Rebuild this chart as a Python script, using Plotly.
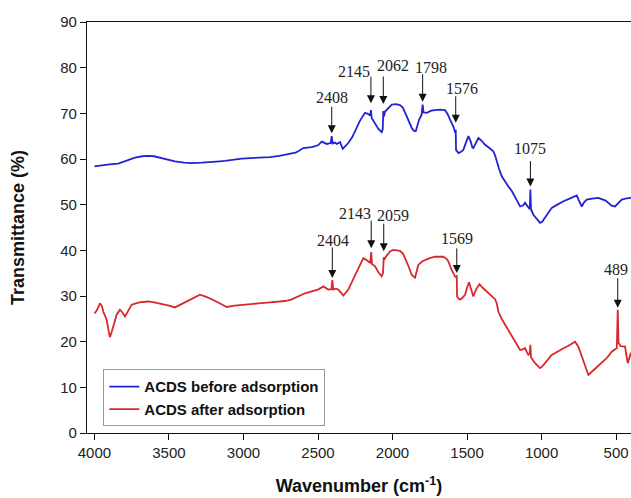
import numpy as np
import plotly.graph_objects as go

# FTIR spectrum of ACDS before adsorption (wavenumber in cm-1, transmittance in %)
wn_before = [4000, 3960, 3900, 3840, 3790, 3728, 3680, 3639, 3600, 3549, 3500, 3460, 3400, 3348,
             3280, 3213, 3160, 3124, 3060, 3012, 2950, 2880, 2822, 2760, 2699, 2650, 2632, 2610,
             2599, 2542, 2500, 2475, 2455, 2442, 2415, 2408, 2402, 2385, 2374, 2352, 2334, 2297,
             2270, 2252, 2220, 2185, 2165, 2150, 2145, 2140, 2117, 2095, 2073, 2066, 2062, 2058,
             2050, 2039, 2020, 2005, 1975, 1950, 1930, 1916, 1890, 1871, 1855, 1844, 1822, 1805,
             1798, 1792, 1770, 1740, 1715, 1680, 1648, 1630, 1614, 1590, 1580, 1576, 1574, 1565,
             1558, 1540, 1525, 1505, 1491, 1475, 1465, 1458, 1440, 1424, 1400, 1379, 1350, 1324,
             1312, 1301, 1285, 1267, 1245, 1223, 1200, 1178, 1160, 1144, 1125, 1111, 1100, 1089,
             1079, 1075, 1071, 1055, 1030, 1010, 995, 977, 955, 932, 900, 876, 850, 820, 790, 764,
             748, 730, 715, 697, 660, 619, 570, 530, 507, 485, 462, 430, 406, 400]
t_before = [58.4, 58.6, 58.8, 59.0, 59.6, 60.3, 60.6, 60.7, 60.6, 60.2, 59.8, 59.5, 59.2, 59.1,
            59.2, 59.3, 59.5, 59.6, 59.9, 60.1, 60.2, 60.3, 60.4, 60.7, 61.1, 61.4, 61.7, 62.3,
            62.4, 62.6, 63.0, 63.8, 63.4, 63.3, 63.5, 65.0, 63.4, 63.6, 63.3, 63.7, 62.2, 63.5,
            64.8, 66.1, 68.3, 70.1, 69.9, 69.5, 70.7, 69.0, 67.9, 66.6, 65.9, 66.5, 70.5, 69.3,
            70.4, 70.8, 71.5, 71.9, 72.0, 71.8, 71.2, 70.1, 68.4, 66.8, 66.1, 66.1, 68.6, 69.7,
            71.9, 70.2, 70.1, 70.6, 70.7, 70.8, 70.7, 69.8, 68.6, 67.0, 65.8, 66.4, 62.0, 61.6,
            61.3, 61.6, 62.0, 63.8, 65.0, 63.8, 62.6, 62.4, 63.6, 64.6, 63.9, 63.1, 62.4, 61.7,
            60.8, 59.5, 57.8, 56.2, 55.0, 54.0, 53.0, 51.8, 50.6, 49.6, 49.8, 50.4, 49.9, 49.3,
            49.0, 53.3, 49.0, 47.8, 46.8, 46.0, 46.3, 47.1, 48.3, 49.3, 49.9, 50.4, 50.8, 51.2, 51.6, 52.0,
            50.8, 49.6, 50.5, 51.1, 51.3, 51.5, 50.9, 49.8, 49.6, 50.4, 51.1, 51.4, 51.5, 51.5]

# FTIR spectrum of ACDS after adsorption
wn_after = [4000, 3985, 3963, 3950, 3941, 3918, 3900, 3895, 3880, 3865, 3851, 3829, 3812, 3795,
            3770, 3750, 3700, 3639, 3600, 3549, 3500, 3460, 3430, 3393, 3340, 3292, 3250, 3213,
            3160, 3113, 3060, 3012, 2950, 2900, 2822, 2760, 2721, 2680, 2632, 2600, 2587, 2542,
            2500, 2464, 2445, 2431, 2410, 2404, 2398, 2380, 2364, 2345, 2330, 2297, 2270, 2252,
            2220, 2196, 2170, 2150, 2143, 2138, 2117, 2095, 2073, 2064, 2059, 2055, 2045, 2035,
            2015, 1995, 1950, 1930, 1916, 1890, 1871, 1849, 1838, 1827, 1800, 1782, 1750, 1715,
            1680, 1659, 1640, 1626, 1603, 1580, 1569, 1567, 1555, 1547, 1530, 1513, 1500, 1487,
            1470, 1458, 1440, 1417, 1395, 1368, 1340, 1312, 1300, 1290, 1268, 1245, 1222, 1200,
            1170, 1144, 1125, 1111, 1100, 1089, 1079, 1075, 1071, 1044, 1025, 1010, 995, 977, 955,
            932, 900, 876, 850, 820, 775, 753, 720, 686, 650, 596, 560, 529, 505, 495, 489, 484,
            470, 440, 422, 406, 400]
t_after = [26.2, 26.8, 28.4, 27.8, 26.6, 24.8, 21.5, 21.0, 22.6, 24.5, 25.9, 27.0, 26.4, 25.5,
           26.8, 28.1, 28.6, 28.8, 28.6, 28.3, 27.9, 27.5, 28.0, 28.6, 29.4, 30.3, 29.8, 29.3,
           28.4, 27.6, 27.9, 28.1, 28.2, 28.4, 28.6, 28.8, 28.9, 29.2, 29.9, 30.5, 30.6, 31.0,
           31.4, 32.1, 31.6, 31.4, 31.5, 33.5, 31.4, 31.6, 31.4, 30.8, 30.1, 31.4, 33.2, 34.6,
           36.7, 38.3, 37.8, 37.2, 39.6, 37.0, 36.5, 35.2, 34.3, 35.0, 38.5, 37.9, 38.6, 39.0,
           39.8, 40.1, 39.9, 39.3, 38.3, 36.3, 34.6, 34.0, 35.4, 36.8, 37.6, 37.9, 38.3, 38.6,
           38.7, 38.6, 38.2, 37.6, 35.7, 34.2, 34.4, 29.9, 29.4, 29.2, 29.6, 30.3, 31.8, 33.0,
           31.2, 29.9, 31.4, 32.6, 31.8, 31.0, 30.2, 29.3, 28.3, 26.6, 25.0, 23.7, 22.4, 21.1,
           19.6, 18.2, 18.3, 18.6, 17.8, 17.1, 17.4, 19.3, 16.6, 15.3, 14.7, 14.2, 14.6, 15.3, 16.3,
           17.1, 17.7, 18.2, 18.6, 19.1, 20.0, 18.9, 15.8, 12.7, 13.8, 15.3, 16.5, 17.8, 18.3, 18.6, 27.0, 19.8,
           19.0, 18.9, 15.3, 17.1, 17.6]

# Labelled absorption bands (cm-1)
peaks_before = [2408, 2145, 2062, 1798, 1576, 1075]
peaks_after = [2404, 2143, 2059, 1569, 489]

x_tick_step = 500
y_ticks = [0, 10, 20, 30, 40, 50, 60, 70, 80, 90]

# label placement: (text dx, text dy, arrow length, arrow standoff) in px
label_style_before = [(0, 39, 31, 3), (-17, 39, 35, 7), (10, 46, 36, 7),
                      (8, 37, 32, 3), (6, 41, 35, 7), (0, 41, 30, 3)]
label_style_after = [(1, 40, 34, 2), (-16, 39, 33, 4), (9, 42, 35, 6),
                     (0, 37, 29, 3), (-2, 40, 33, 2)]

BLUE = "#2323d2"
RED = "#d8282c"
SANS = "Liberation Sans, Arial, sans-serif"
SERIF = "Liberation Serif, Times New Roman, serif"

fig = go.Figure()
fig.add_trace(go.Scatter(x=wn_before, y=t_before, mode="lines", name="ACDS before adsorption",
                         line=dict(color=BLUE, width=1.8)))
fig.add_trace(go.Scatter(x=wn_after, y=t_after, mode="lines", name="ACDS after adsorption",
                         line=dict(color=RED, width=1.8)))


def peak_value(wn, t, p):
    xs = np.array(wn[::-1], dtype=float)
    ys = np.array(t[::-1], dtype=float)
    return float(np.interp(p, xs, ys))


annotations = []
for wn, t, peaks, styles in [(wn_before, t_before, peaks_before, label_style_before),
                             (wn_after, t_after, peaks_after, label_style_after)]:
    for p, (dx, dy, length, stand) in zip(peaks, styles):
        v = peak_value(wn, t, p)
        # arrow pointing down at the band
        annotations.append(dict(x=p, y=v, xref="x", yref="y", text="", showarrow=True,
                                ax=0, ay=-length, arrowhead=2, arrowsize=1.6,
                                arrowwidth=1, arrowcolor="#111", standoff=stand))
        # band position label
        annotations.append(dict(x=p, y=v, xref="x", yref="y", text=str(p), showarrow=False,
                                xshift=dx, yshift=dy, xanchor="center", yanchor="middle",
                                font=dict(family=SERIF, size=16, color="#222")))

fig.update_layout(
    width=631, height=498,
    margin=dict(l=87, r=0, t=22, b=65),
    paper_bgcolor="white", plot_bgcolor="white",
    font=dict(family=SANS, size=15, color="#222"),
    showlegend=True,
    legend=dict(x=0.03, y=0.155, xanchor="left", yanchor="top",
                bgcolor="white", bordercolor="#9a9a9a", borderwidth=1,
                font=dict(family=SANS, size=15, color="#111", weight="bold"),
                tracegroupgap=0, itemwidth=30),
    annotations=annotations,
)
fig.update_xaxes(range=[4050, 400], tick0=0, dtick=x_tick_step,
                 showgrid=False, zeroline=False,
                 showline=True, linecolor="#111", linewidth=1.3, mirror=True,
                 ticks="outside", ticklen=6, tickwidth=1.3, tickcolor="#111",
                 tickfont=dict(family=SANS, size=15, color="#222"),
                 title=dict(text="Wavenumber (cm<sup>-1</sup>)", standoff=19,
                            font=dict(family=SANS, size=18, color="#111", weight="bold")))
fig.update_yaxes(range=[0, 90], tickvals=y_ticks,
                 showgrid=False, zeroline=False,
                 showline=True, linecolor="#111", linewidth=1.3, mirror=False,
                 ticks="outside", ticklen=6, tickwidth=1.3, tickcolor="#111",
                 tickfont=dict(family=SANS, size=15, color="#222"),
                 title=dict(text="Transmittance (%)", standoff=30,
                            font=dict(family=SANS, size=18, color="#111", weight="bold")))

fig.write_html("out.html")
